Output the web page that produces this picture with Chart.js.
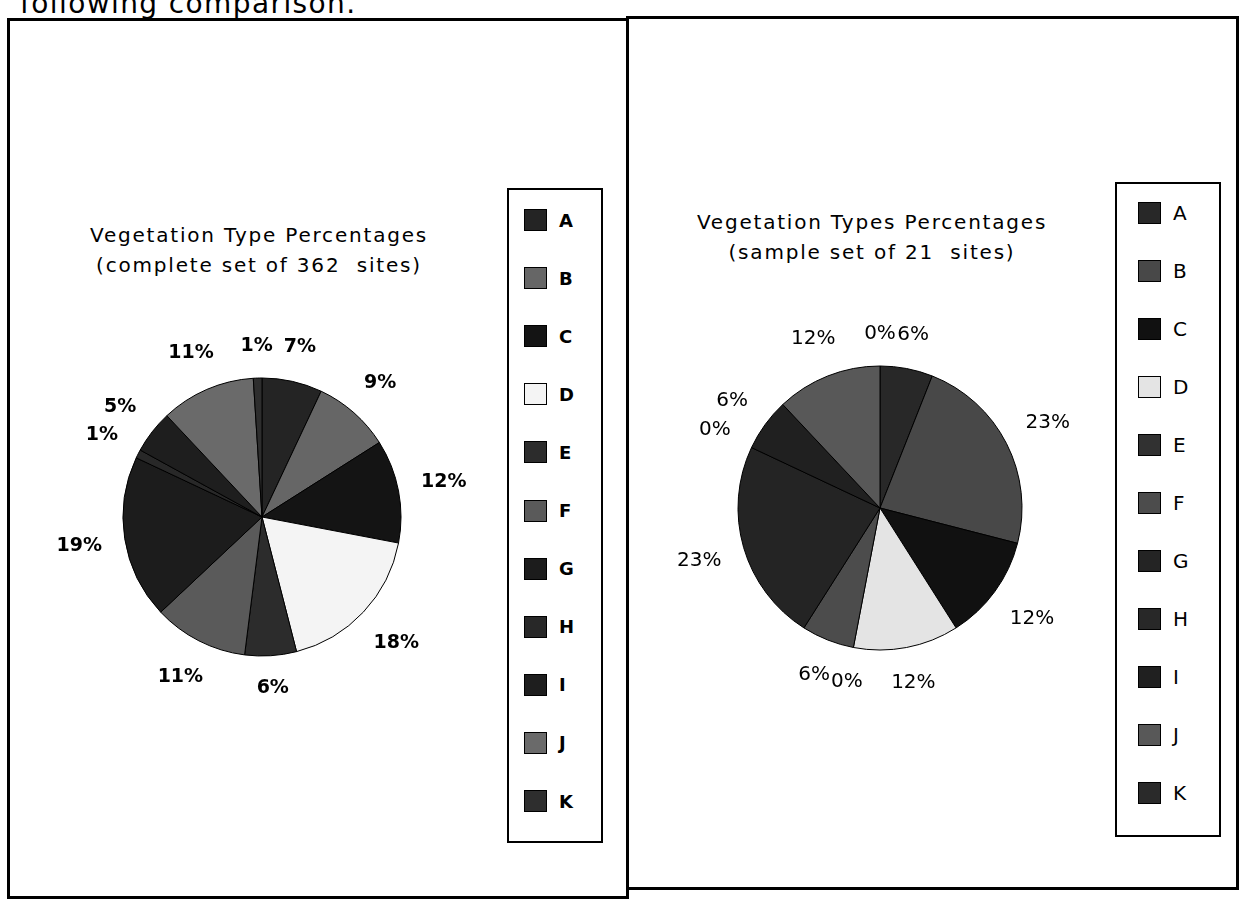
<!DOCTYPE html>
<html>
<head>
<meta charset="utf-8">
<script src="https://cdn.jsdelivr.net/npm/chart.js@4.4.1/dist/chart.umd.min.js"></script>
<style>
  html, body { margin: 0; padding: 0; background: #fff; }
  body { width: 1242px; height: 901px; position: relative; overflow: hidden;
         font-family: "DejaVu Sans", sans-serif; color: #000; }
  .abs { position: absolute; }
  #intro { left: 20px; top: -13px; font-size: 28px; letter-spacing: 1.4px; white-space: nowrap; }
  #panelLeft { left: 7px; top: 18px; width: 616px; height: 875px; border: 3px solid #000; }
  #panelRight { left: 626px; top: 16px; width: 610px; height: 868px;
                border: 3px solid #000; border-left: none; }
  .title { text-align: center; font-size: 20px; line-height: 30px; letter-spacing: 1.8px; white-space: nowrap; }
  .legend { border: 2px solid #000; box-sizing: border-box; }
  .legend .item { position: absolute; display: flex; align-items: center; }
  .legend .sw { width: 23px; height: 22px; border: 1px solid #000; box-sizing: border-box; margin-right: 12px; }
  #legendLeft .item { font-weight: bold; font-size: 18px; }
  #legendRight .item { font-size: 20px; }
</style>
</head>
<body>
<div id="intro" class="abs">following comparison.</div>
<div id="panelLeft" class="abs"></div>
<div id="panelRight" class="abs"></div>

<div class="abs title" style="left:59px; top:220px; width:400px;">Vegetation Type Percentages<br>(complete set of 362&nbsp; sites)</div>
<div class="abs title" style="left:672px; top:207px; width:400px;">Vegetation Types Percentages<br>(sample set of 21&nbsp; sites)</div>

<canvas id="pieLeft" class="abs" width="460" height="460" style="left:32px; top:287px;"></canvas>
<canvas id="pieRight" class="abs" width="460" height="460" style="left:650px; top:278px;"></canvas>

<div id="legendLeft" class="abs legend" style="left:507px; top:188px; width:96px; height:655px;"></div>
<div id="legendRight" class="abs legend" style="left:1115px; top:182px; width:106px; height:655px;"></div>

<script>
// vegetation types, clockwise from 12 o'clock
const categories = ['A', 'B', 'C', 'D', 'E', 'F', 'G', 'H', 'I', 'J', 'K'];
const completeSetPct = [7, 9, 12, 18, 6, 11, 19, 1, 5, 11, 1];   // 362 sites
const sampleSetPct   = [6, 23, 12, 12, 0, 6, 23, 0, 6, 12, 0];   // 21 sites

// scanned greyscale fills
const leftShades  = ['#242424', '#666666', '#141414', '#f4f4f4', '#2c2c2c', '#5a5a5a',
                     '#1c1c1c', '#282828', '#1e1e1e', '#6a6a6a', '#2e2e2e'];
const rightShades = ['#282828', '#484848', '#111111', '#e4e4e4', '#313131', '#4c4c4c',
                     '#242424', '#282828', '#202020', '#585858', '#2a2a2a'];

// percentage labels sitting just outside each slice
const outsideLabels = {
    id: 'outsideLabels',
    afterDatasetsDraw(chart, args, opts) {
        const ctx = chart.ctx;
        const meta = chart.getDatasetMeta(0);
        const values = chart.data.datasets[0].data;
        ctx.save();
        ctx.font = opts.font;
        ctx.fillStyle = '#000';
        ctx.textAlign = 'center';
        ctx.textBaseline = 'middle';
        meta.data.forEach((arc, i) => {
            const p = arc.getProps(['x', 'y', 'startAngle', 'endAngle', 'outerRadius'], true);
            const a = (p.startAngle + p.endAngle) / 2;
            const text = values[i] + '%';
            const hw = ctx.measureText(text).width / 2;
            const hh = opts.size / 2;
            const d = p.outerRadius + opts.gap + Math.abs(Math.cos(a)) * hw + Math.abs(Math.sin(a)) * hh;
            ctx.fillText(text, p.x + Math.cos(a) * d, p.y + Math.sin(a) * d);
        });
        ctx.restore();
    }
};

function makePie(id, values, shades, radius, labelFont, labelSize) {
    return new Chart(document.getElementById(id), {
        type: 'pie',
        data: {
            labels: categories,
            datasets: [{
                data: values,
                backgroundColor: shades,
                borderColor: '#000',
                borderWidth: 1
            }]
        },
        options: {
            responsive: false,
            animation: false,
            radius: radius,
            layout: { padding: 0 },
            plugins: {
                legend: { display: false },
                tooltip: { enabled: false },
                outsideLabels: { font: labelFont, size: labelSize, gap: 22 }
            }
        },
        plugins: [outsideLabels]
    });
}

function buildLegend(chart, el, firstY, step, swatchX) {
    const items = chart.options.plugins.legend.labels.generateLabels(chart);
    items.forEach((it, i) => {
        const row = document.createElement('div');
        row.className = 'item';
        row.style.left = swatchX + 'px';
        row.style.top = (firstY + i * step) + 'px';
        const sw = document.createElement('div');
        sw.className = 'sw';
        sw.style.background = it.fillStyle;
        const tx = document.createElement('span');
        tx.textContent = it.text;
        row.appendChild(sw);
        row.appendChild(tx);
        el.appendChild(row);
    });
}

const leftChart = makePie('pieLeft', completeSetPct, leftShades, 139, 'bold 19px "DejaVu Sans"', 19);
const rightChart = makePie('pieRight', sampleSetPct, rightShades, 142, '20px "DejaVu Sans"', 20);

buildLegend(leftChart, document.getElementById('legendLeft'), 19, 58.1, 15);
buildLegend(rightChart, document.getElementById('legendRight'), 17, 58, 21);
</script>
</body>
</html>
